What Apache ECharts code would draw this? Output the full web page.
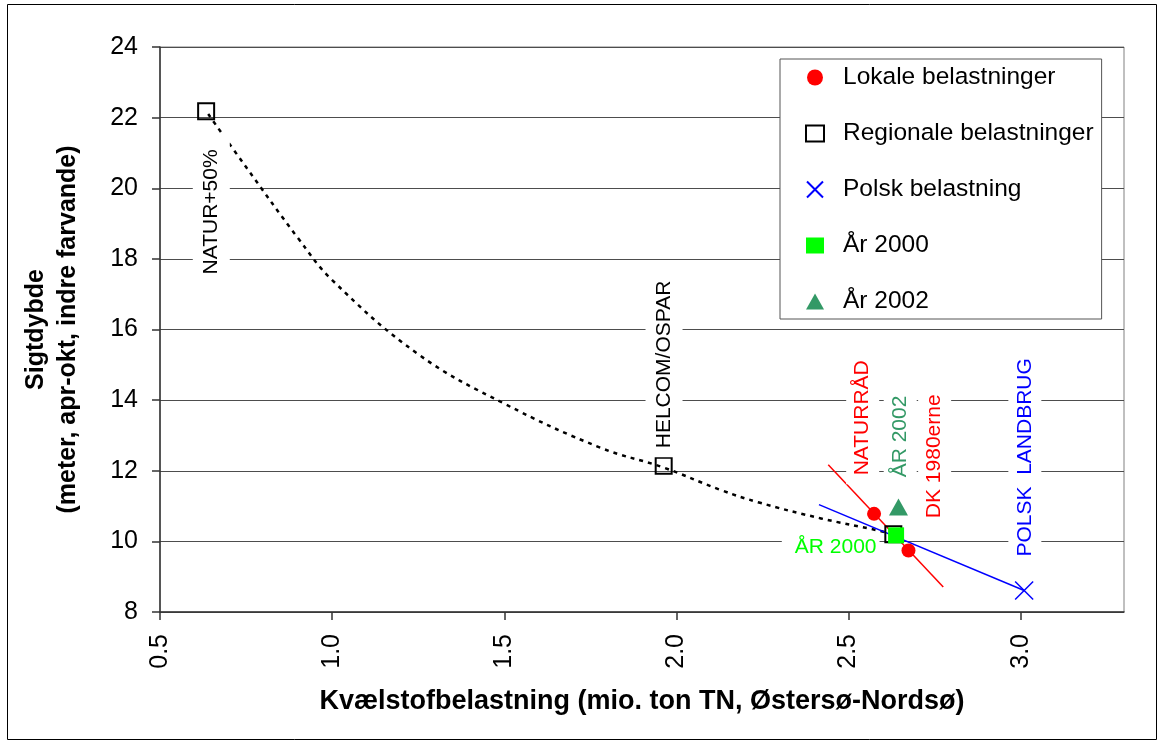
<!DOCTYPE html>
<html><head><meta charset="utf-8">
<script src="https://cdn.jsdelivr.net/npm/echarts@6/dist/echarts.min.js"></script>
<style>html,body{margin:0;padding:0;background:#fff}#c{width:1162px;height:744px}</style>
</head><body><div id="c"></div>
<script>
const FONT = '"Liberation Sans", Arial, sans-serif';

// ---- data ----
const xTickLabels = ['0.5', '1.0', '1.5', '2.0', '2.5', '3.0'];
const yTickLabels = ['8', '10', '12', '14', '16', '18', '20', '22', '24'];

const trendX = [0.64, 0.75, 0.90, 1.00, 1.25, 1.50, 1.78, 1.96, 2.13, 2.24, 2.42, 2.59, 2.63];
const trendY = [22.1, 20.6, 18.6, 17.4, 15.3, 13.9, 12.65, 12.1, 11.45, 11.1, 10.65, 10.3, 10.2];

const lokaleX = [2.574, 2.674];
const lokaleY = [10.78, 9.74];
const lokaleLineX = [2.441, 2.775];
const lokaleLineY = [12.17, 8.71];

const regionalX = [0.634, 1.963, 2.630];
const regionalY = [22.18, 12.14, 10.20];

const polskX = [3.01];
const polskY = [8.61];
const polskLineX = [2.414, 3.01];
const polskLineY = [11.04, 8.61];

const aar2000X = [2.638];
const aar2000Y = [10.17];
const aar2002X = [2.645];
const aar2002Y = [10.97];

const annoText = ['NATUR+50%', 'HELCOM/OSPAR', 'NATURRÅD', 'ÅR 2002', 'DK 1980erne', 'POLSK  LANDBRUG', 'ÅR 2000'];
const annoX = [0.649, 1.964, 2.541, 2.650, 2.750, 3.012, 2.448];
const annoY = [19.33, 15.01, 13.50, 12.97, 12.41, 12.38, 9.84];

const legendNames = ['Lokale belastninger', 'Regionale belastninger', 'Polsk belastning', 'År 2000', 'År 2002'];

// ---- styles ----
const annoColor = ['#000', '#000', '#ff0000', '#339966', '#ff0000', '#0000ff', '#00ff00'];
const annoRotate = [90, 90, 90, 90, 90, 90, 0];
const annoPad = [[8, 16, 8, 16], [8, 9, 8, 9], [6, 9, 6, 9], [6, 9, 6, 9], [6, 9, 6, 9], [6, 9, 6, 9], [2, 3, 2, 13]];

const zip = (xs, ys) => xs.map((x, i) => [x, ys[i]]);

const chart = echarts.init(document.getElementById('c'), null, {renderer: 'canvas'});
chart.setOption({
  backgroundColor: '#fff',
  animation: false,
  textStyle: {fontFamily: FONT},
  graphic: [{
    type: 'rect', z: -10, silent: true,
    shape: {x: 7.5, y: 4.5, width: 1149, height: 735},
    style: {fill: 'none', stroke: '#000', lineWidth: 1}
  }],
  grid: {left: 160, right: 38, top: 47, bottom: 132, show: true, borderColor: '#808080', borderWidth: 1, backgroundColor: 'transparent'},
  legend: {
    orient: 'vertical', left: 780, top: 59,
    data: legendNames,
    itemWidth: 18, itemHeight: 16, itemGap: 31,
    padding: [6, 8, 5, 25],
    borderColor: '#555', borderWidth: 1, backgroundColor: '#fff',
    textStyle: {fontFamily: FONT, fontSize: 24.5, color: '#000', lineHeight: 24, padding: [0, 0, 0, 14]},
    selectedMode: false
  },
  xAxis: {
    type: 'value', min: 0.5, max: 3.3, interval: 0.5,
    name: 'Kvælstofbelastning (mio. ton TN, Østersø-Nordsø)',
    nameLocation: 'middle', nameGap: 76,
    nameTextStyle: {fontFamily: FONT, fontSize: 27, fontWeight: 'bold', color: '#000'},
    axisLine: {show: true, lineStyle: {color: '#333', width: 1.5}},
    axisTick: {show: true, inside: false, length: 8, lineStyle: {color: '#333', width: 1.5}},
    axisLabel: {
      rotate: 90, margin: 22, fontSize: 25, color: '#000', fontFamily: FONT, showMaxLabel: false,
      formatter: v => { const i = Math.round((v - 0.5) / 0.5); return Math.abs(v - (0.5 + i * 0.5)) < 1e-6 ? (xTickLabels[i] || '') : ''; }
    },
    splitLine: {show: false}
  },
  yAxis: {
    type: 'value', min: 8, max: 24, interval: 2,
    name: 'Sigtdybde\n(meter, apr-okt, indre farvande)',
    nameLocation: 'middle', nameRotate: 90, nameGap: 76,
    nameTextStyle: {fontFamily: FONT, fontSize: 25, fontWeight: 'bold', color: '#000', lineHeight: 32},
    axisLine: {show: true, lineStyle: {color: '#333', width: 1.5}},
    axisTick: {show: true, inside: false, length: 8, lineStyle: {color: '#333', width: 1.5}},
    axisLabel: {
      margin: 22, fontSize: 25, color: '#000', fontFamily: FONT,
      formatter: v => yTickLabels[Math.round((v - 8) / 2)] || ''
    },
    splitLine: {show: true, lineStyle: {color: '#4d4d4d', width: 1}}
  },
  series: [
    {
      name: 'trend', type: 'line', data: zip(trendX, trendY), smooth: 0.4,
      symbol: 'none', silent: true, z: 1,
      lineStyle: {color: '#000', width: 2.5, type: [4, 5]}
    },
    {
      name: 'lokaleLine', type: 'line', data: zip(lokaleLineX, lokaleLineY),
      symbol: 'none', silent: true, z: 2, lineStyle: {color: '#ff0000', width: 1.5}
    },
    {
      name: 'polskLine', type: 'line', data: zip(polskLineX, polskLineY),
      symbol: 'none', silent: true, z: 2, lineStyle: {color: '#0000ff', width: 1.5}
    },
    {
      name: 'Regionale belastninger', type: 'scatter', data: zip(regionalX, regionalY),
      symbol: 'rect', symbolSize: 16, z: 3,
      itemStyle: {color: 'rgba(255,255,255,0)', borderColor: '#000', borderWidth: 2, opacity: 1}
    },
    {
      name: 'År 2000', type: 'scatter', data: zip(aar2000X, aar2000Y),
      symbol: 'rect', symbolSize: 16, z: 4, itemStyle: {color: '#00ff00', opacity: 1}
    },
    {
      name: 'Lokale belastninger', type: 'scatter', data: zip(lokaleX, lokaleY),
      symbol: 'circle', symbolSize: 14, z: 5, itemStyle: {color: '#ff0000', opacity: 1}
    },
    {
      name: 'Polsk belastning', type: 'scatter', data: zip(polskX, polskY),
      symbol: 'path://M0,0L10,10M10,0L0,10', symbolSize: 18, z: 5,
      itemStyle: {color: 'rgba(0,0,0,0)', borderColor: '#0000ff', borderWidth: 1.5, opacity: 1}
    },
    {
      name: 'År 2002', type: 'scatter', data: zip(aar2002X, aar2002Y),
      symbol: 'triangle', symbolSize: [19, 17], z: 5, itemStyle: {color: '#339966', opacity: 1}
    },
    {
      name: 'annotations', type: 'scatter', silent: true, z: 10,
      symbolSize: 1, itemStyle: {color: 'rgba(0,0,0,0)', opacity: 1},
      data: annoText.map((t, i) => ({
        value: [annoX[i], annoY[i]],
        label: {
          show: true, position: 'inside', formatter: t,
          rotate: annoRotate[i], color: annoColor[i],
          fontFamily: FONT, fontSize: 21,
          backgroundColor: '#fff', padding: annoPad[i]
        }
      }))
    }
  ]
});
</script></body></html>
